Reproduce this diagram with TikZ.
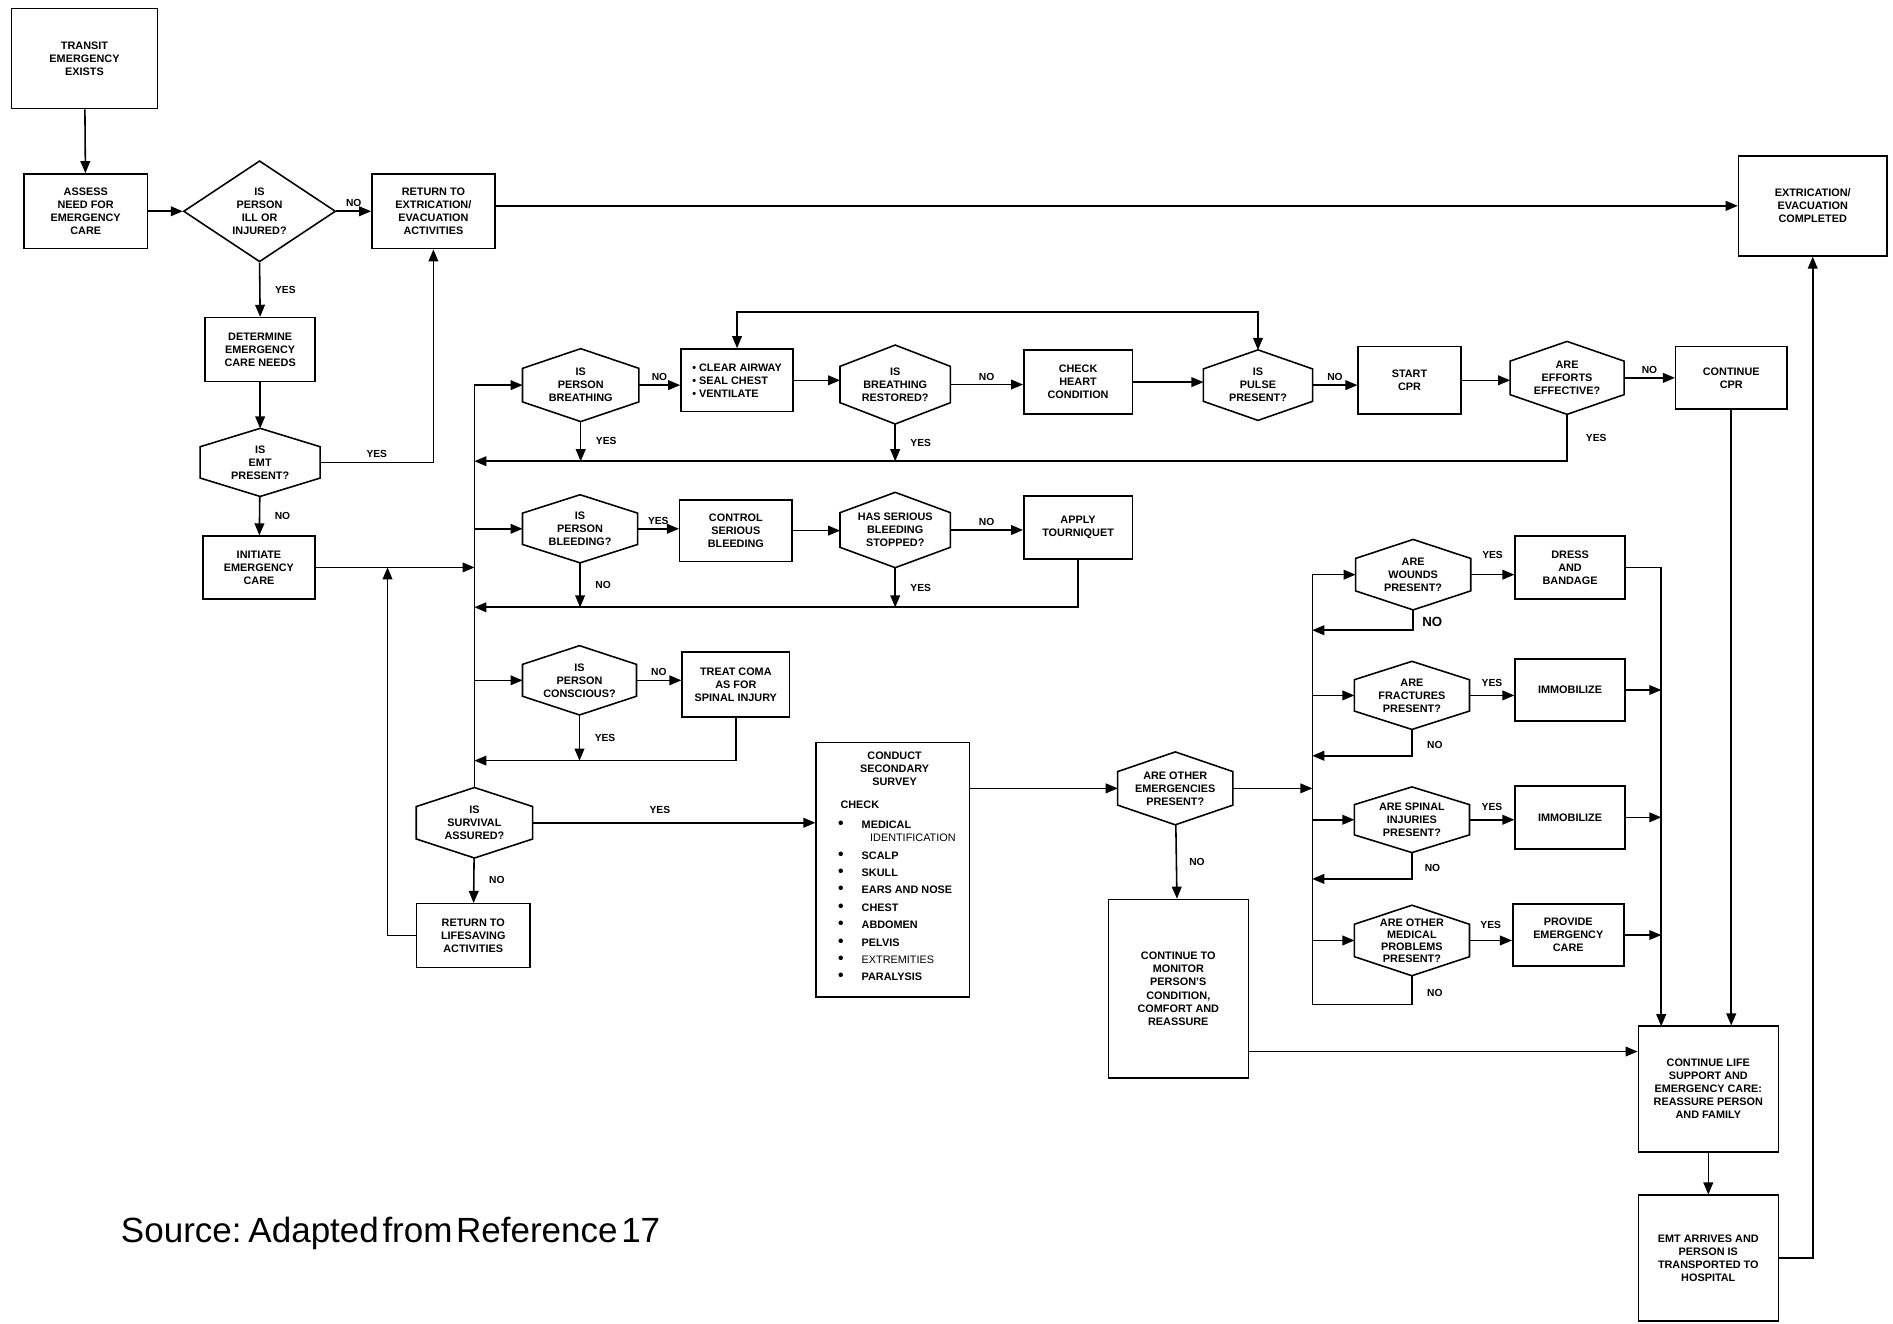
\documentclass[tikz,border=0pt]{standalone}
\usepackage{fontspec}
\setmainfont{Liberation Sans}
\usetikzlibrary{positioning,calc,arrows,shapes.geometric}

\newcommand\srcfont{\fontsize{29}{34}\selectfont\spaceskip=3pt\relax}
\newcommand\bigdot{{\fontsize{13}{13}\selectfont\textbullet}}

\tikzset{
  base/.style={font=\fontsize{9}{10.8}\selectfont\bfseries, align=center, inner sep=1pt},
  sz/.style 2 args={minimum width=#1pt, minimum height=#2pt},
  box/.style={base, draw, rectangle, line width=1.3pt},
  hexq/.style={base, rectangle, inner sep=0pt},
  hexline/.style={line width=1.3pt},
  lbl/.style={font=\fontsize{8.5}{10}\selectfont\bfseries, inner sep=3pt},
  bignum/.style={font=\fontsize{11}{12}\selectfont\bfseries, inner sep=3pt},
  link/.style={->, line width=1.3pt},
}

\begin{document}
\begin{tikzpicture}[x=1pt,y=-1pt,>=triangle 45]
\useasboundingbox (0,0) rectangle (1568,1096);

% left column
\node[box, sz={121}{83}] (transit) at (70,48.5) {TRANSIT\\EMERGENCY\\EXISTS};
\node[box, sz={102}{62}] (assess) at (71,175) {ASSESS\\NEED FOR\\EMERGENCY\\CARE};
\node[base, draw, diamond, line width=1.3pt, inner sep=0pt, sz={126}{82}] (ill) at (215,175) {IS\\PERSON\\ILL OR\\INJURED?};
\node[box, sz={102}{62}] (retext) at (359,175) {RETURN TO\\EXTRICATION/\\EVACUATION\\ACTIVITIES};
\node[box, sz={123}{83}] (done) at (1501.5,170.5) {EXTRICATION/\\EVACUATION\\COMPLETED};
\node[box, sz={91}{53}] (determine) at (215.5,289.5) {DETERMINE\\EMERGENCY\\CARE NEEDS};
\node[hexq, sz={99}{56}] (emt) at (215.5,383) {IS\\EMT\\PRESENT?};
\node[box, sz={93}{52}] (initiate) at (214.5,470) {INITIATE\\EMERGENCY\\CARE};

% lifesaving checks
\node[hexq, sz={96}{60}] (breath) at (481,319) {IS\\PERSON\\BREATHING};
\node[box, sz={93}{52}, align=left] (airway) at (610.5,315) {\textbullet\ CLEAR AIRWAY\\\textbullet\ SEAL CHEST\\\textbullet\ VENTILATE};
\node[hexq, sz={91}{65}] (restored) at (741.5,318.5) {IS\\BREATHING\\RESTORED?};
\node[box, sz={90}{53}] (heart) at (893,316.5) {CHECK\\HEART\\CONDITION};
\node[hexq, sz={90}{58}] (pulse) at (1042,319) {IS\\PULSE\\PRESENT?};
\node[box, sz={85}{56}] (cpr) at (1167.5,315) {START\\CPR};
\node[hexq, sz={94}{60}] (effort) at (1298,313) {ARE\\EFFORTS\\EFFECTIVE?};
\node[box, sz={92}{52}] (contcpr) at (1434,313) {CONTINUE\\CPR};

\node[hexq, sz={95}{56}] (bleed) at (480.5,438) {IS\\PERSON\\BLEEDING?};
\node[box, sz={93}{51}] (control) at (609.5,439.5) {CONTROL\\SERIOUS\\BLEEDING};
\node[hexq, sz={91}{62}] (stopped) at (741.5,439) {HAS SERIOUS\\BLEEDING\\STOPPED?};
\node[box, sz={90}{52}] (tourn) at (893,437) {APPLY\\TOURNIQUET};

\node[hexq, sz={94}{57}] (consc) at (480,563.5) {IS\\PERSON\\CONSCIOUS?};
\node[box, sz={89}{54}] (coma) at (609.5,567) {TREAT COMA\\AS FOR\\SPINAL INJURY};

\node[hexq, sz={96}{58}] (surv) at (393,681.5) {IS\\SURVIVAL\\ASSURED?};
\node[box, sz={94}{53}] (lifesave) at (392,775) {RETURN TO\\LIFESAVING\\ACTIVITIES};

\coordinate (r1) at (393,382);
\coordinate (r2) at (393,503);
\coordinate (r3) at (393,630);
\coordinate (loop) at (321,470);

% secondary survey
\node[box, sz={127}{211}] (survey) at (739.5,720.5) {};
\node[base] (surveyhd) at (741,637) {CONDUCT\\SECONDARY\\SURVEY};
\node[anchor=north west, inner sep=0pt, font=\fontsize{9}{14.4}\selectfont\bfseries] (checks) at (694,659) {%
  \begin{tabular}{@{}l@{\hspace{15pt}}l@{}}
  \multicolumn{2}{@{}l}{\hspace*{2pt}CHECK}\\[2.6pt]
  \bigdot & MEDICAL\\[-3.4pt]
   & \hspace*{7pt}\mdseries IDENTIFICATION\\
  \bigdot & SCALP\\
  \bigdot & SKULL\\
  \bigdot & EARS AND NOSE\\
  \bigdot & CHEST\\
  \bigdot & ABDOMEN\\
  \bigdot & PELVIS\\
  \bigdot & \mdseries EXTREMITIES\\
  \bigdot & PARALYSIS
  \end{tabular}};

\node[hexq, sz={95}{60}] (other) at (973.5,653) {ARE OTHER\\EMERGENCIES\\PRESENT?};
\node[box, sz={116}{148}] (monitor) at (976,819) {CONTINUE TO\\MONITOR\\PERSON'S\\CONDITION,\\COMFORT AND\\REASSURE};

% other emergencies
\node[hexq, sz={95}{58}] (wounds) at (1170.5,476) {ARE\\WOUNDS\\PRESENT?};
\node[box, sz={91}{52}] (dress) at (1300.5,470) {DRESS\\AND\\BANDAGE};
\node[hexq, sz={95}{56}] (fract) at (1169.5,576) {ARE\\FRACTURES\\PRESENT?};
\node[box, sz={91}{51}] (immoba) at (1300.5,571.5) {IMMOBILIZE};
\node[hexq, sz={95}{54}] (spinal) at (1169.5,679) {ARE SPINAL\\INJURIES\\PRESENT?};
\node[box, sz={91}{52}] (immobb) at (1300.5,677) {IMMOBILIZE};
\node[hexq, sz={95}{58}, font=\fontsize{9}{10}\selectfont\bfseries] (medic) at (1169.5,779) {ARE OTHER\\MEDICAL\\PROBLEMS\\PRESENT?};
\node[box, sz={92}{51}] (provide) at (1299,774.5) {PROVIDE\\EMERGENCY\\CARE};

\coordinate (w1) at (1087,522);
\coordinate (w2) at (1087,626);
\coordinate (w3) at (1087,728);
\coordinate (w4) at (1087,832);
\coordinate (col) at (1376,850);

\node[box, sz={116}{104}] (support) at (1415,902) {CONTINUE LIFE\\SUPPORT AND\\EMERGENCY CARE:\\REASSURE PERSON\\AND FAMILY};
\node[box, sz={116}{104}] (arrive) at (1415,1042) {EMT ARRIVES AND\\PERSON IS\\TRANSPORTED TO\\HOSPITAL};

\node[anchor=base west, inner sep=0pt] (src) at (100,1029) {\srcfont Source: Adapted from Reference 17};

% hexagon outlines
\foreach \h in {emt,breath,restored,pulse,effort,bleed,stopped,consc,surv,other,wounds,fract,spinal,medic}
  \draw[hexline] (\h.north) -- ($(\h.north east)!0.27!(\h.south east)$) -- ($(\h.north east)!0.73!(\h.south east)$)
    -- (\h.south) -- ($(\h.north west)!0.73!(\h.south west)$) -- ($(\h.north west)!0.27!(\h.south west)$) -- cycle;

% connectors, left column
\draw[link] (transit) -- (assess);
\draw[link] (assess.east) -- (ill.west);
\draw[link] (ill.east) -- node[lbl,above] {NO} (retext.west);
\draw[link] (retext.east |- done.west) -- (done.west);
\draw[link] (ill.south) -- node[lbl,right=9pt] {YES} (determine.north);
\draw[link] (determine) -- (emt);
\draw[link] (emt.east) -| node[lbl,above,pos=0.25] {YES} (retext.south);
\draw[link] (emt) -- node[lbl,right=9pt] {NO} (initiate);
\draw[link] (initiate.east) -- (initiate.east -| surv.north);

% main bus
\draw[link] (surv.north) |- (breath.west);
\draw[link] (bleed.west -| surv.north) -- (bleed.west);
\draw[link] (consc.west -| surv.north) -- (consc.west);
\draw[link] (surv) -- node[lbl,right=9pt] {NO} (lifesave);
\draw[link] (lifesave.west) -| (loop);
\draw[link] (surv.east) -- node[lbl,above=4pt,pos=0.45] {YES} (surv.east -| survey.west);

% breathing row
\draw[link] (breath.east) -- node[lbl,above] {NO} (breath.east -| airway.west);
\draw[link] (airway.east) -- (airway.east -| restored.west);
\draw[link] (restored.east) -- node[lbl,above] {NO} (restored.east -| heart.west);
\draw[link] (heart.east) -- (heart.east -| pulse.west);
\draw[link] (pulse.east) -- node[lbl,above] {NO} (pulse.east -| cpr.west);
\draw[link] (cpr.east) -- (cpr.east -| effort.west);
\draw[link] (effort.east) -- node[lbl,above] {NO} (effort.east -| contcpr.west);
\draw[link] (breath) -- node[lbl,right=9pt] {YES} (breath |- r1);
\draw[link] (restored) -- node[lbl,right=9pt] {YES} (restored |- r1);
\draw[link] (effort) |- node[lbl,right=12pt,pos=0.25] {YES} (r1);
\draw[<->, line width=1.3pt] (airway.north) -- ++(0,-30) -| (pulse.north);

% bleeding row
\draw[link] (bleed.east) -- node[lbl,above] {YES} (bleed.east -| control.west);
\draw[link] (control.east) -- (control.east -| stopped.west);
\draw[link] (stopped.east) -- node[lbl,above] {NO} (stopped.east -| tourn.west);
\draw[link] (bleed) -- node[lbl,right=9pt] {NO} (bleed |- r2);
\draw[link] (stopped) -- node[lbl,right=9pt] {YES} (stopped |- r2);
\draw[link] (tourn) |- (r2);

% conscious row
\draw[link] (consc.east) -- node[lbl,above] {NO} (consc.east -| coma.west);
\draw[link] (consc) -- node[lbl,right=9pt] {YES} (consc |- r3);
\draw[link] (coma) |- (r3);

% secondary survey
\draw[link] (survey.east |- other.west) -- (other.west);
\draw[link] (other.east) -- (other.east -| w1);
\draw[link] (other) -- node[lbl,right=7pt] {NO} (monitor);
\draw[link] ([yshift=-52pt]monitor.east) -- ([yshift=-52pt]monitor.east -| support.west);

% other emergencies
\draw[link] (w4) |- (wounds.west);
\draw[link] (fract.west -| w1) -- (fract.west);
\draw[link] (spinal.west -| w1) -- (spinal.west);
\draw[link] (medic.west -| w1) -- (medic.west);
\draw[link] (wounds) |- node[bignum,right=4pt,pos=0.3] {NO} (w1);
\draw[link] (fract) |- node[lbl,right=9pt,pos=0.3] {NO} (w2);
\draw[link] (spinal) |- node[lbl,right=7pt,pos=0.3] {NO} (w3);
\draw[line width=1.3pt] (medic) |- node[lbl,right=9pt,pos=0.3] {NO} (w4);
\draw[link] (wounds.east) -- node[lbl,above=10pt] {YES} (wounds.east -| dress.west);
\draw[link] (fract.east) -- node[lbl,above=4pt] {YES} (fract.east -| immoba.west);
\draw[link] (spinal.east) -- node[lbl,above=4pt] {YES} (spinal.east -| immobb.west);
\draw[link] (medic.east) -- node[lbl,above=6pt] {YES} (medic.east -| provide.west);
\draw[link] (dress.east) -| (col);
\draw[link] (immoba.east) -- (immoba.east -| col);
\draw[link] (immobb.east) -- (immobb.east -| col);
\draw[link] (provide.east) -- (provide.east -| col);

% end
\draw[link] (contcpr) -- (contcpr |- support.north);
\draw[link] (support) -- (arrive);
\draw[link] (arrive.east) -| (done.south);
\end{tikzpicture}
\end{document}
